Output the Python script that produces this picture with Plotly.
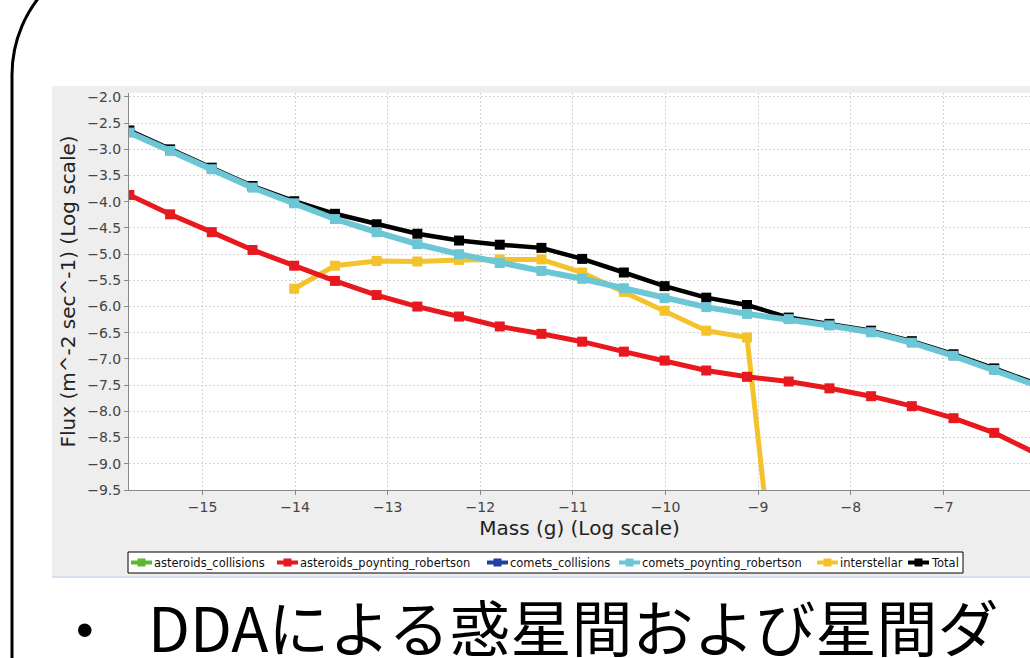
import plotly.graph_objects as go

# ---- data: log10 mass bins and log10 flux per source ----
mass_log = [-15.79, -15.35, -14.90, -14.46, -14.01, -13.57, -13.12, -12.68,
            -12.23, -11.79, -11.34, -10.90, -10.45, -10.01, -9.56, -9.12,
            -8.67, -8.23, -7.78, -7.34, -6.89, -6.45, -6.00]

asteroids_collisions = []          # no values inside the plotted flux range
comets_collisions = []             # no values inside the plotted flux range

asteroids_pr = [-3.87, -4.24, -4.58, -4.92, -5.22, -5.51, -5.78, -6.00,
                -6.19, -6.38, -6.52, -6.67, -6.86, -7.03, -7.22, -7.34,
                -7.43, -7.56, -7.71, -7.90, -8.13, -8.41, -8.80]

comets_pr = [-2.68, -3.03, -3.38, -3.73, -4.03, -4.33, -4.58, -4.81,
             -5.00, -5.17, -5.32, -5.47, -5.65, -5.84, -6.01, -6.14,
             -6.24, -6.36, -6.49, -6.69, -6.94, -7.21, -7.50]

interstellar = [None, None, None, None, -5.66, -5.22, -5.13, -5.14,
                -5.11, -5.10, -5.10, -5.35, -5.72, -6.08, -6.46, -6.59,
                -13.8, None, None, None, None, None, None]

total = [-2.64, -3.00, -3.35, -3.70, -3.99, -4.23, -4.43, -4.61,
         -4.74, -4.82, -4.88, -5.09, -5.35, -5.61, -5.83, -5.97,
         -6.21, -6.33, -6.46, -6.66, -6.91, -7.18, -7.47]

series_names = ["asteroids_collisions", "asteroids_poynting_robertson",
                "comets_collisions", "comets_poynting_robertson",
                "interstellar", "Total"]
series_colors = ["#5cb832", "#e8191e", "#1f3fa3", "#6cc6d6", "#f4c22a", "#000000"]
series_values = [asteroids_collisions, asteroids_pr, comets_collisions,
                 comets_pr, interstellar, total]
series_widths = [5, 5, 5, 6, 5, 4.5]

x_tick_vals = [-15, -14, -13, -12, -11, -10, -9, -8, -7, -6]
y_tick_vals = [-2.0, -2.5, -3.0, -3.5, -4.0, -4.5, -5.0, -5.5, -6.0, -6.5,
               -7.0, -7.5, -8.0, -8.5, -9.0, -9.5]

# ---- page geometry (pixels) ----
W, H = 1030, 658
PL, PR, PT, PB = 129, 1030, 93, 490


def fx(p):
    return (p - PL) / (PR - PL)


def fy(p):
    return (PB - p) / (PB - PT)


fig = go.Figure()

# the first series is painted last so it sits on top
for name, color, vals, lw in reversed(list(zip(series_names, series_colors,
                                                  series_values, series_widths))):
    xs = mass_log[:len(vals)] if vals else []
    fig.add_trace(go.Scatter(
        x=xs, y=vals, name=name, mode="lines+markers",
        line=dict(color=color, width=lw),
        marker=dict(symbol="square", size=10, color=color),
        connectgaps=False, showlegend=False, hoverinfo="skip"))

tick_font = dict(family="DejaVu Sans", size=14, color="#444444")
title_font = dict(family="DejaVu Sans", size=20, color="#222222")
grid = dict(showgrid=True, gridcolor="#d4d4d4", gridwidth=1, griddash="2px,2px",
            zeroline=False, showline=True, linecolor="#8a8a8a", linewidth=1,
            ticks="outside", ticklen=4, tickcolor="#8a8a8a", tickfont=tick_font)

fig.update_xaxes(range=[-15.794, -6.064], tickvals=x_tick_vals,
                 title=dict(text="Mass (g) (Log scale)", font=title_font, standoff=7),
                 **grid)
fig.update_yaxes(range=[-9.5, -1.925], tickvals=y_tick_vals, tickformat=".1f",
                 title=dict(text="Flux (m^-2 sec^-1) (Log scale)", font=title_font,
                            standoff=6),
                 **grid)

shapes = [
    # chart panel and white plotting area
    dict(type="rect", xref="paper", yref="paper", layer="below",
         x0=fx(52), x1=fx(1030), y0=fy(577), y1=fy(86),
         fillcolor="#eeeeee", line=dict(width=0)),
    dict(type="line", xref="paper", yref="paper", layer="below",
         x0=fx(52), x1=fx(1030), y0=fy(577), y1=fy(577),
         line=dict(color="#d5e0ec", width=2)),
    dict(type="rect", xref="paper", yref="paper", layer="below",
         x0=0, x1=1, y0=0, y1=1, fillcolor="#ffffff", line=dict(width=0)),
    # legend frame
    dict(type="rect", xref="paper", yref="paper", layer="above",
         x0=fx(128), x1=fx(963), y0=fy(573), y1=fy(552),
         fillcolor="#ffffff", line=dict(color="#000000", width=1)),
]

# slide frame with rounded corner
pts = [(12, 658), (12, 75), (12, 6), (68, -50), (137, -50), (1200, -50)]
p = [(fx(a), fy(b)) for a, b in pts]
path = (f"M {p[0][0]},{p[0][1]} L {p[1][0]},{p[1][1]} "
        f"C {p[2][0]},{p[2][1]} {p[3][0]},{p[3][1]} {p[4][0]},{p[4][1]} "
        f"L {p[5][0]},{p[5][1]}")
shapes.append(dict(type="path", xref="paper", yref="paper", path=path,
                   line=dict(color="#000000", width=3), layer="above"))

annotations = []

# legend entries
legend_left = [131, 277, 487, 619, 817, 908]
ly = 562.5
for name, color, left in zip(series_names, series_colors, legend_left):
    shapes.append(dict(type="line", xref="paper", yref="paper", layer="above",
                       x0=fx(left), x1=fx(left + 21), y0=fy(ly), y1=fy(ly),
                       line=dict(color=color, width=4)))
    shapes.append(dict(type="rect", xref="paper", yref="paper", layer="above",
                       x0=fx(left + 6.5), x1=fx(left + 14.5),
                       y0=fy(ly + 4), y1=fy(ly - 4),
                       fillcolor=color, line=dict(width=0)))
    annotations.append(dict(x=fx(left + 21), y=fy(ly), xref="paper", yref="paper",
                            text=name, showarrow=False, xanchor="left",
                            yanchor="middle",
                            font=dict(family="DejaVu Sans", size=11.5, color="#111111")))

# bullet line of the slide
annotations.append(dict(x=fx(85), y=fy(630), xref="paper", yref="paper",
                        text="•", showarrow=False, xanchor="center", yanchor="middle",
                        font=dict(family="Liberation Sans", size=50, color="#000000")))
annotations.append(dict(x=fx(146), y=fy(625), xref="paper", yref="paper",
                        text="DDAによる惑星間および星間ダ", showarrow=False,
                        xanchor="left", yanchor="middle",
                        font=dict(family="Noto Sans CJK JP", size=61, color="#000000")))

fig.update_layout(
    width=W, height=H, autosize=False,
    margin=dict(l=PL, r=W - PR, t=PT, b=H - PB, pad=0),
    paper_bgcolor="#ffffff", plot_bgcolor="#ffffff",
    showlegend=False, shapes=shapes, annotations=annotations,
)

fig.write_html("out.html")
